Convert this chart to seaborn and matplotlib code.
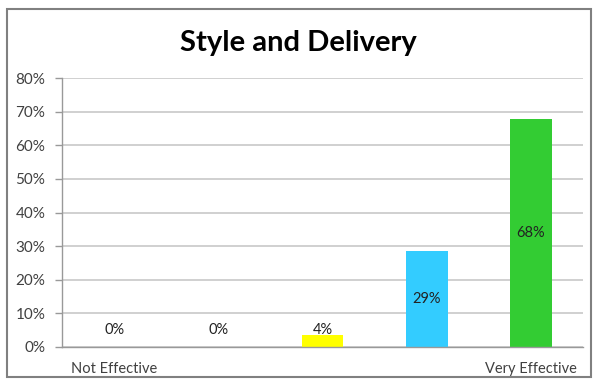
import matplotlib
matplotlib.use("Agg")
import matplotlib.pyplot as plt
import seaborn as sns
import pandas as pd
import numpy as np
from matplotlib.patches import Rectangle
from matplotlib.ticker import FixedLocator

categories = ["Not Effective", "2", "3", "4", "Very Effective"]
tick_labels = ["Not Effective", "", "", "", "Very Effective"]
values = [0.0, 0.0, 0.036, 0.286, 0.679]
value_labels = ["0%", "0%", "4%", "29%", "68%"]
colors = ["#FF0000", "#FF9900", "#FFFF00", "#33CCFF", "#33CC33"]
y_ticks = [0, 0.1, 0.2, 0.3, 0.4, 0.5, 0.6, 0.7, 0.8]
y_tick_labels = ["0%", "10%", "20%", "30%", "40%", "50%", "60%", "70%", "80%"]

sns.set_style("white")
plt.rcParams['font.family'] = ['Lato', 'DejaVu Sans']

df = pd.DataFrame({"cat": categories, "val": values})

fig = plt.figure(figsize=(5.95, 3.79), dpi=100)
ax = fig.add_axes([62/595, 1-347/379, (583-62)/595, (347-78)/379])

sns.barplot(data=df, x="cat", y="val", hue="cat", palette=colors, order=categories,
            hue_order=categories, legend=False, width=0.4, ax=ax, saturation=1,
            edgecolor="none", linewidth=0)

ax.set_ylim(0, 0.8)
ax.set_xlim(-0.5, 4.5)
ax.set_yticks(y_ticks)
ax.set_yticklabels(y_tick_labels, fontsize=11, color="#404040")
ax.yaxis.grid(True, color="#c8c8c8", linewidth=1.2)
ax.set_axisbelow(True)
ax.set_xticks(range(len(categories)))
ax.set_xticklabels(tick_labels, fontsize=10.5, color="#404040")
ax.xaxis.set_minor_locator(FixedLocator(np.arange(-0.5, 5, 1)))
ax.tick_params(axis="x", which="major", length=0, pad=11)
ax.tick_params(axis="x", which="minor", length=4, color="#999999", width=1)
ax.tick_params(axis="y", which="major", length=5, color="#999999", width=1, left=True, pad=7)
ax.set_xlabel("")
ax.set_ylabel("")
for s in ["top", "right"]:
    ax.spines[s].set_visible(False)
for s in ["left", "bottom"]:
    ax.spines[s].set_color("#999999")
    ax.spines[s].set_linewidth(1)

for i, (v, lab) in enumerate(zip(values, value_labels)):
    if v < 0.1:
        ax.text(i, max(v, 0.035) + 0.016, lab, ha="center", va="center", fontsize=10.5, color="#222222")
    else:
        ax.text(i, v / 2, lab, ha="center", va="center", fontsize=10.5, color="#222222")

fig.text(298/595, 1-43/379, "Style and Delivery", ha="center", va="center",
         fontsize=21, fontweight="bold", color="black")

fig.patches.append(Rectangle((7/595, 2/379), 584/595, 368/379, transform=fig.transFigure,
                             fill=False, edgecolor="#808080", linewidth=1.5))

fig.savefig("out.png", dpi=100)
